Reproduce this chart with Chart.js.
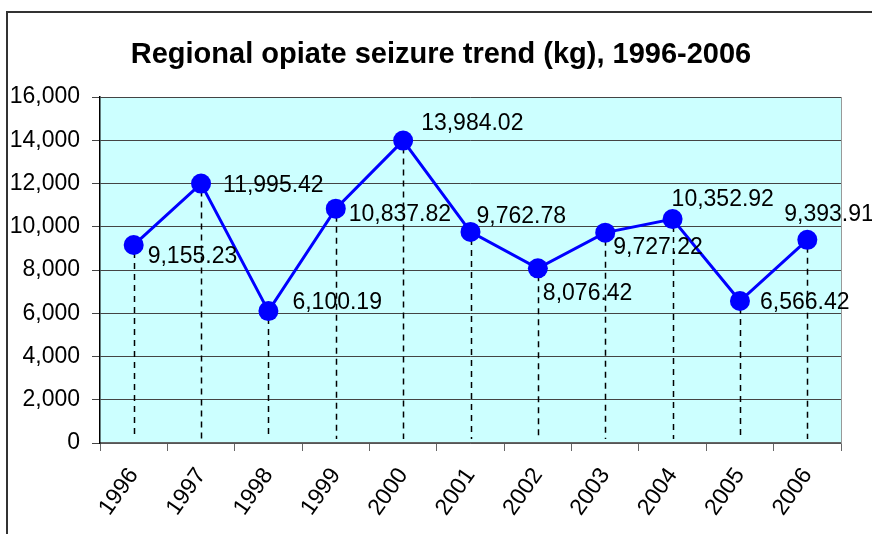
<!DOCTYPE html>
<html>
<head>
<meta charset="utf-8">
<title>Regional opiate seizure trend</title>
<script src="https://cdn.jsdelivr.net/npm/chart.js@4/dist/chart.umd.min.js"></script>
<style>
    html, body { margin: 0; padding: 0; background: #ffffff; }
    #wrap { width: 872px; height: 534px; }
</style>
</head>
<body>
<div id="wrap"><canvas id="trend-chart" width="872" height="534"></canvas></div>
<script>
// Data
const years = ['1996', '1997', '1998', '1999', '2000', '2001', '2002', '2003', '2004', '2005', '2006'];
const seizuresKg = [9155.23, 11995.42, 6100.19, 10837.82, 13984.02, 9762.78, 8076.42, 9727.22, 10352.92, 6566.42, 9393.91];
const yTicks = [0, 2000, 4000, 6000, 8000, 10000, 12000, 14000, 16000];
const chartTitle = 'Regional opiate seizure trend (kg), 1996-2006';

// Where each value label sits relative to its point (dx to left edge, dy to text middle)
const labelOffsets = [
    [14, 12], [22, 2], [24, -8], [13, 6], [18, -17], [6, -15],
    [5, 25], [8, 15], [-1, -19], [20, 2], [-23, -25]
];

const FONT = '"Liberation Sans", Arial, Helvetica, sans-serif';

function formatNumber(v, digits) {
    return v.toLocaleString('en-US', { minimumFractionDigits: digits, maximumFractionDigits: digits });
}

// Plot area fill, outer frame, title, right border and drop lines
const plotBackground = {
    id: 'plotBackground',
    beforeDraw(chart) {
        const { ctx, chartArea: a } = chart;
        ctx.save();
        ctx.fillStyle = '#ffffff';
        ctx.fillRect(0, 0, chart.width, chart.height);
        // outer frame (only top and left are visible)
        ctx.strokeStyle = '#333333';
        ctx.lineWidth = 2;
        ctx.beginPath();
        ctx.moveTo(7, chart.height + 5);
        ctx.lineTo(7, 12);
        ctx.lineTo(chart.width + 5, 12);
        ctx.stroke();
        ctx.fillStyle = '#ccffff';
        ctx.fillRect(a.left, a.top, a.right - a.left, a.bottom - a.top);

        // title, centred over the frame rather than the plot
        ctx.font = 'bold 29px ' + FONT;
        ctx.fillStyle = '#000000';
        ctx.textAlign = 'center';
        ctx.textBaseline = 'middle';
        ctx.fillText(chartTitle, 441, 55);
        ctx.restore();
    },
    beforeDatasetsDraw(chart) {
        const { ctx, chartArea: a } = chart;
        ctx.save();
        ctx.strokeStyle = '#999999';
        ctx.lineWidth = 1;
        ctx.beginPath();
        ctx.moveTo(a.right + 0.5, a.top);
        ctx.lineTo(a.right + 0.5, a.bottom);
        ctx.stroke();

        // dashed drop lines from each point to the axis
        const meta = chart.getDatasetMeta(0);
        ctx.strokeStyle = '#000000';
        ctx.lineWidth = 1.5;
        ctx.setLineDash([6, 5]);
        meta.data.forEach(pt => {
            const x = Math.round(pt.x) + 0.5;
            ctx.beginPath();
            ctx.moveTo(x, pt.y + 7);
            ctx.lineTo(x, a.bottom - 4);
            ctx.stroke();
        });
        ctx.restore();
    }
};

// Value labels next to points
const valueLabels = {
    id: 'valueLabels',
    afterDatasetsDraw(chart) {
        const { ctx } = chart;
        const meta = chart.getDatasetMeta(0);
        ctx.save();
        ctx.font = '23px ' + FONT;
        ctx.fillStyle = '#000000';
        ctx.textAlign = 'left';
        ctx.textBaseline = 'middle';
        meta.data.forEach((pt, i) => {
            const off = labelOffsets[i];
            ctx.fillText(formatNumber(seizuresKg[i], 2), pt.x + off[0], pt.y + off[1]);
        });
        ctx.restore();
    }
};

document.addEventListener('DOMContentLoaded', function() {
    const ctx = document.getElementById('trend-chart').getContext('2d');

    new Chart(ctx, {
        type: 'line',
        data: {
            labels: years,
            datasets: [{
                data: seizuresKg,
                borderColor: '#0000ff',
                borderWidth: 3,
                backgroundColor: '#0000ff',
                pointBackgroundColor: '#0000ff',
                pointBorderWidth: 0,
                pointRadius: 10,
                tension: 0,
                fill: false
            }]
        },
        options: {
            responsive: false,
            animation: false,
            devicePixelRatio: 1,
            layout: { padding: { left: 0, right: 31, top: 97, bottom: 0 } },
            plugins: {
                legend: { display: false },
                tooltip: { enabled: false },
                title: { display: false }
            },
            scales: {
                x: {
                    offset: true,
                    grid: {
                        offset: true,
                        drawOnChartArea: false,
                        drawTicks: true,
                        tickLength: 8,
                        color: '#666666'
                    },
                    border: { color: '#666666', width: 1.5 },
                    ticks: {
                        color: '#000000',
                        font: { family: FONT, size: 23 },
                        minRotation: 55,
                        maxRotation: 55,
                        padding: 12
                    },
                    afterFit(scale) { scale.height = 91; }
                },
                y: {
                    min: 0,
                    max: 16000,
                    afterBuildTicks(scale) {
                        scale.ticks = yTicks.map(v => ({ value: v }));
                    },
                    grid: {
                        color: '#444444',
                        lineWidth: 1,
                        tickLength: 8
                    },
                    border: { color: '#000000', width: 1.5 },
                    ticks: {
                        color: '#000000',
                        font: { family: FONT, size: 23 },
                        padding: 12,
                        callback: v => formatNumber(v, 0)
                    },
                    afterFit(scale) { scale.width = 100; }
                }
            }
        },
        plugins: [plotBackground, valueLabels]
    });
});
</script>
</body>
</html>
